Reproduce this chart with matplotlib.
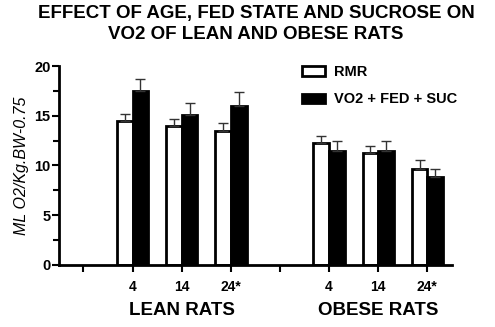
import matplotlib.pyplot as plt
import numpy as np

plt.rcParams['font.family'] = ['Liberation Sans', 'DejaVu Sans']

tick_labels = ['', '4', '14', '24*', '', '4', '14', '24*']
groups = ['LEAN RATS', 'OBESE RATS']
group_pos = [2, 6]
bar_pos = [1, 2, 3, 5, 6, 7]

rmr = [14.5, 14.0, 13.5, 12.3, 11.3, 9.65]
rmr_err = [0.7, 0.7, 0.8, 0.7, 0.7, 0.85]
vo2 = [17.5, 15.1, 16.0, 11.5, 11.5, 8.8]
vo2_err = [1.2, 1.2, 1.4, 1.0, 1.0, 0.85]

fig = plt.figure(figsize=(4.95, 3.27), dpi=100)
ax = fig.add_axes([0.119, 0.19, 0.794, 0.608])

x = np.array(bar_pos)
w = 0.32
err_style = dict(ecolor='#333333', elinewidth=1.0, capsize=3.5, capthick=1.0)
ax.bar(x - w / 2, rmr, w, color='white', edgecolor='black', linewidth=2,
       yerr=[np.zeros(len(rmr)), rmr_err], error_kw=err_style, label='RMR')
ax.bar(x + w / 2, vo2, w, color='black', edgecolor='black', linewidth=2,
       yerr=[np.zeros(len(vo2)), vo2_err], error_kw=err_style, label='VO2 + FED + SUC')

ax.set_xlim(-0.5, 7.5)
ax.set_ylim(0, 20)
ax.set_yticks([0, 5, 10, 15, 20])
ax.set_yticks(np.arange(0, 20, 2.5), minor=True)
ax.set_xticks(range(8))
ax.set_xticklabels(tick_labels, fontsize=10, fontweight='bold')
for t in ax.get_yticklabels():
    t.set_fontweight('bold')
    t.set_fontsize(10.5)
ax.tick_params(axis='both', width=1.5, length=5, direction='out')
ax.tick_params(axis='y', which='minor', width=1.5, length=4)
ax.tick_params(axis='y', pad=1)
ax.tick_params(axis='x', pad=6)

for s in ['top', 'right']:
    ax.spines[s].set_visible(False)
for s in ['left', 'bottom']:
    ax.spines[s].set_linewidth(2)

ax.set_ylabel('ML O2/Kg.BW-0.75', fontsize=11.5, fontstyle='italic', labelpad=4)

for g, p in zip(groups, group_pos):
    ax.text(p, -4.6, g, ha='center', va='center', fontsize=13.5, fontweight='bold')

fig.text(0.517, 0.985, 'EFFECT OF AGE, FED STATE AND SUCROSE ON\nVO2 OF LEAN AND OBESE RATS',
         ha='center', va='top', fontsize=13.5, fontweight='bold', linespacing=1.3)

leg = ax.legend(loc='upper left', bbox_to_anchor=(0.585, 1.07), frameon=False,
                prop={'weight': 'bold', 'size': 10.5}, handlelength=1.6,
                handleheight=0.6, labelspacing=0.9, handletextpad=0.6)

fig.savefig('out.png', dpi=100)
